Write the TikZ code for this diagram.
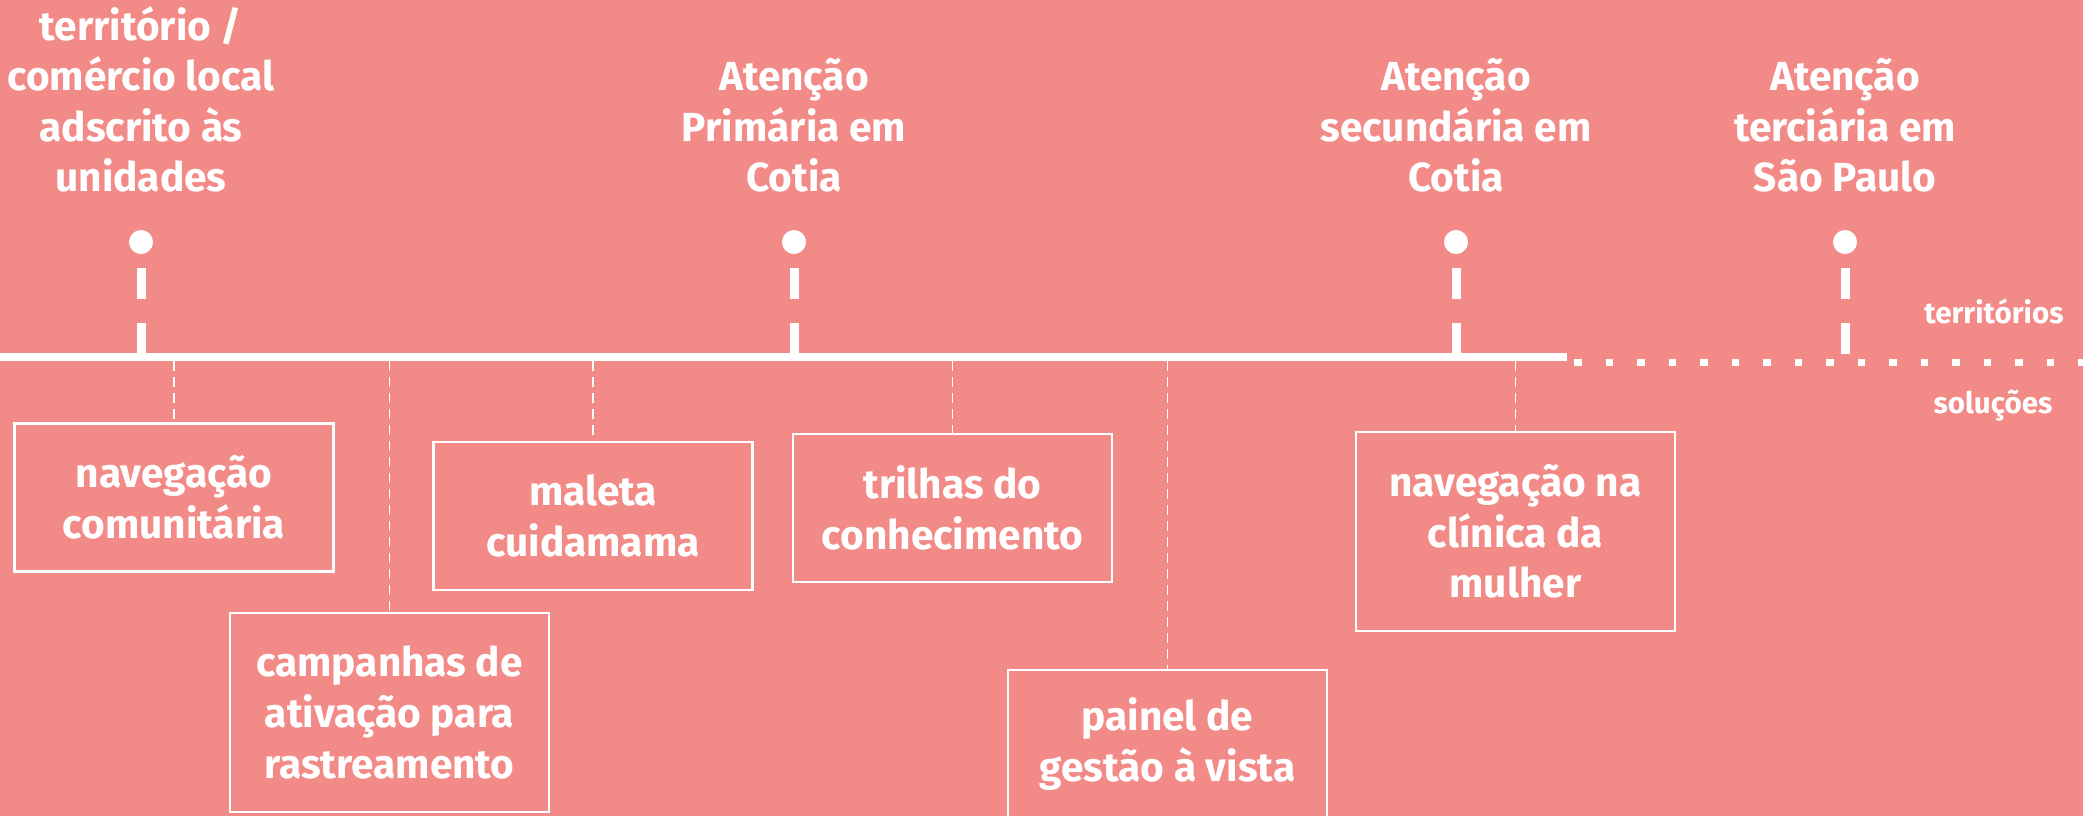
\documentclass[tikz,border=0pt]{standalone}
\usepackage{fontspec}
\setmainfont{Fira Sans}
\usetikzlibrary{positioning}
\definecolor{fundo}{RGB}{242,138,135}
\newcommand\textogrande{\bfseries\fontsize{20.3}{25.3}\selectfont}
\tikzset{
	rotulo/.style={text=white, font=\textogrande, align=center, inner sep=0pt},
	pino/.style={circle, fill=white, minimum size=12pt, inner sep=0pt},
	haste/.style={white, line width=4.5pt, dash pattern=on 15.5pt off 12pt},
	caixa/.style={draw=white, line width=1.1pt, minimum width=159.5pt, minimum height=74pt, text=white, font=\textogrande, align=center},
	ligacao/.style={white, line width=0.8pt, dash pattern=on 5pt off 3pt},
	legenda/.style={text=white, font=\bfseries\fontsize{14.8}{17}\selectfont, inner sep=0pt, anchor=base}
}

\begin{document}
\begin{tikzpicture}[x=0.5pt,y=-0.5pt]
	\fill[fundo] (0,0) rectangle (2083,816);
	\useasboundingbox (0,0) rectangle (2083,816);

	% linha do tempo
	\coordinate (inicio) at (0,357);
	\coordinate (fim) at (1567,357);
	\coordinate (pontos) at (1574,362);
	\coordinate (borda) at (2083,362);
	\coordinate (base) at (0,361);
	\draw[white, line width=4pt] (inicio) -- (fim);
	\draw[white, line width=3.5pt, dash pattern=on 3.75pt off 12pt] (pontos) -- (borda);

	\foreach \x/\txt[count=\j] in {141/{território /\\comércio local\\adscrito às\\unidades},
		794/{Atenção\\Primária em\\Cotia},
		1456/{Atenção\\secundária em\\Cotia},
		1845/{Atenção\\terciária em\\São Paulo}}
	{
		\node[rotulo, anchor=south] (lugar\j) at (\x,193) {\txt};
		\node[pino] (pino\j) at (\x,242) {};
		\coordinate (marca\j) at (\x,357);
		\draw[haste] ([yshift=-7pt]pino\j.south) -- (marca\j);
	}

	\node[legenda] (territorios) at (1994,323) {territórios};
	\node[legenda] (solucoes) at (1993,413) {soluções};

	% solucoes
	\node[caixa] (navcom) at (174,497.5) {navegação\\comunitária};
	\node[caixa, minimum height=99.5pt] (campanhas) at (389.5,712.5) {campanhas de\\ativação para\\rastreamento};
	\node[caixa] (maleta) at (593,516) {maleta\\cuidamama};
	\node[caixa] (trilhas) at (952.5,508) {trilhas do\\conhecimento};
	\node[caixa] (painel) at (1167.5,744) {painel de\\gestão à vista};
	\node[caixa, minimum height=99.5pt] (navclin) at (1515.5,531.5) {navegação na\\clínica da\\mulher};

	\foreach \c in {navcom,campanhas,maleta,trilhas,painel,navclin}
		\draw[ligacao] (\c.north |- base) -- (\c.north);
\end{tikzpicture}
\end{document}
